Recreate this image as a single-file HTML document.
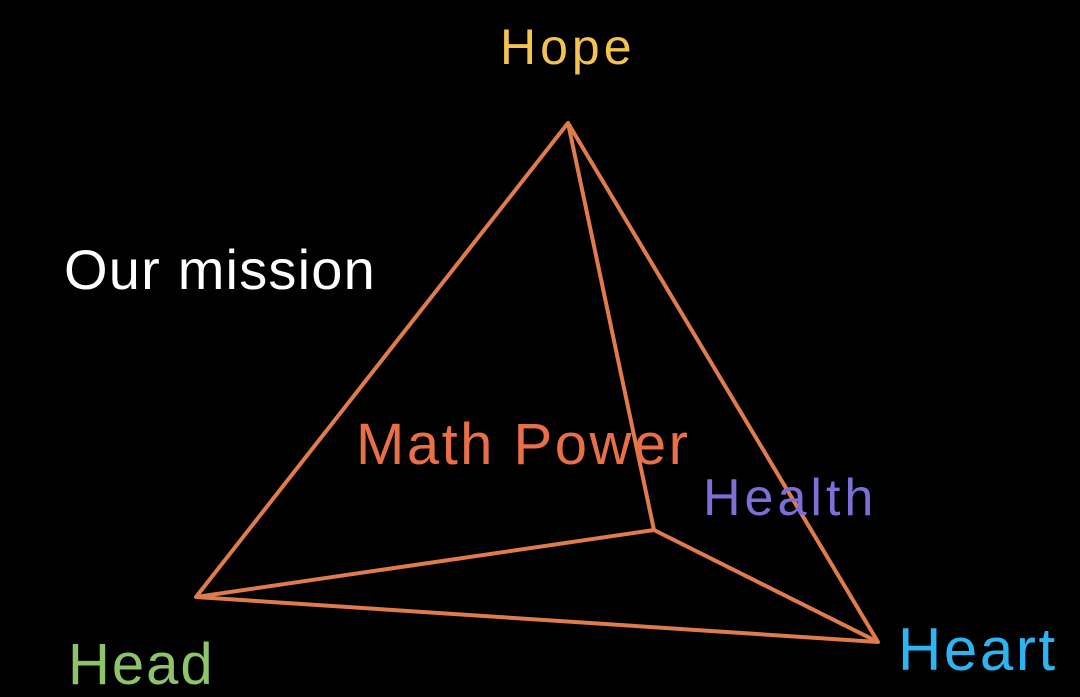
<!DOCTYPE html>
<html><head><meta charset="utf-8"><style>
html,body{margin:0;padding:0;background:#000;}
body{width:1080px;height:692px;overflow:hidden;position:relative;font-family:"Liberation Sans",sans-serif;}
.t{position:absolute;white-space:nowrap;line-height:1;}
</style></head><body>
<svg width="1080" height="692" style="position:absolute;left:0;top:0">
<g fill="none" stroke="#e07b4c" stroke-width="4" stroke-linejoin="round">
<polygon points="568,123 196,597 878,642"/>
<polyline points="568,123 654,530 878,642"/>
<line x1="196" y1="597" x2="654" y2="530"/>
</g>
</svg>
<div class="t" style="left:500px;top:22px;font-size:50px;color:#f3c24f;letter-spacing:4px">Hope</div>
<div class="t" style="left:64px;top:242px;font-size:56px;color:#fff;letter-spacing:1.2px">Our mission</div>
<div class="t" style="left:356px;top:416px;font-size:58px;color:#e96f47;letter-spacing:2.5px">Math Power</div>
<div class="t" style="left:703px;top:472px;font-size:52px;color:#7d6fd8;letter-spacing:4px">Health</div>
<div class="t" style="left:898px;top:620px;font-size:60px;color:#2cb5f2;letter-spacing:2.6px">Heart</div>
<div class="t" style="left:68px;top:636px;font-size:58px;color:#8fc36a;letter-spacing:2px">Head</div>
</body></html>
